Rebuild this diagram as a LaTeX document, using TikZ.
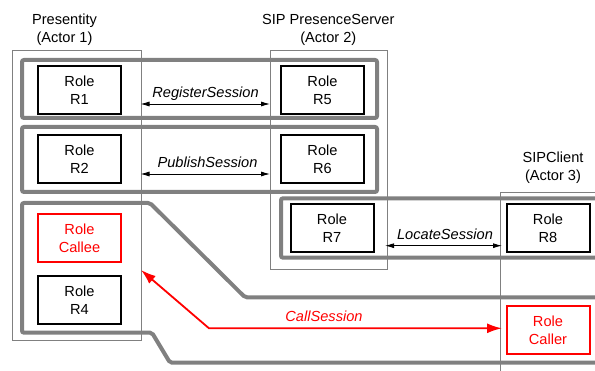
\documentclass[tikz,border=0pt]{standalone}
\usepackage{fontspec}
\setmainfont{Liberation Sans}
\usetikzlibrary{arrows.meta}
\begin{document}
\begin{tikzpicture}[x=1pt,y=-1pt,
  every node/.style={font=\fontsize{14.6}{18}\selectfont},
  rolebox/.style={draw=black, line width=2pt, minimum width=83pt, minimum height=48pt, align=center, inner sep=0pt, fill=white},
  redbox/.style={rolebox, draw=red, text=red},
  band/.style={draw=black!50, line width=4pt, rounded corners=2pt},
  actorbox/.style={draw=black!50, line width=0.8pt, inner sep=0pt},
  title/.style={align=center, inner sep=0pt},
  msg/.style={{Latex[length=9pt,width=5pt]}-{Latex[length=9pt,width=5pt]}, line width=0.8pt},
  lbl/.style={font=\fontsize{14.6}{18}\selectfont\itshape, anchor=base, inner sep=0pt}
]
\useasboundingbox (0,0) rectangle (595,371);
\clip (0,0) rectangle (595,371);

% actor boxes
\node[actorbox, minimum width=129pt, minimum height=290pt] (a1) at (76.5,195) {};
\node[actorbox, minimum width=116.6pt, minimum height=219.3pt] (a2) at (329,159.7) {};
\draw[draw=black!50, line width=0.8pt] (600,192.3) -- (500.7,192.3) -- (500.7,380);

% titles
\node[title] (t1) at (64.5,30) {Presentity\\(Actor 1)};
\node[title] (t2) at (328.3,30) {SIP PresenceServer\\(Actor 2)};
\node[title] (t3) at (553,168) {SIPClient\\(Actor 3)};

% session bands
\draw[band] (22,60) rectangle (377,118);
\draw[band] (22,127) rectangle (377,192);
\draw[band] (600,198.3) -- (281,198.3) -- (281,257.7) -- (600,257.7);
\draw[band] (600,297.3) -- (245,297.3) -- (150,203) -- (22,203) -- (22,332.7) -- (152,332.7) -- (170,362.7) -- (600,362.7);

% roles
\node[rolebox] (r1) at (79.5,90) {Role\\R1};
\node[rolebox] (r2) at (79.5,159) {Role\\R2};
\node[redbox] (callee) at (79.5,238.3) {Role\\Callee};
\node[rolebox] (r4) at (79.5,300) {Role\\R4};
\node[rolebox] (r5) at (322.5,90) {Role\\R5};
\node[rolebox] (r6) at (322.5,159) {Role\\R6};
\node[rolebox] (r7) at (332,228.5) {Role\\R7};
\node[rolebox] (r8) at (548,228.5) {Role\\R8};
\node[redbox] (caller) at (548,330) {Role\\Caller};

% connectors
\coordinate (rsA) at (140.5,104);
\coordinate (rsB) at (270,104);
\draw[msg] (rsA) -- (rsB);
\node[lbl] (lrs) at (205.5,98) {RegisterSession};

\coordinate (psA) at (140.5,174);
\coordinate (psB) at (270,174);
\draw[msg] (psA) -- (psB);
\node[lbl] (lps) at (207.5,168) {PublishSession};

\coordinate (lsA) at (385,245.7);
\coordinate (lsB) at (502,245.7);
\draw[msg] (lsA) -- (lsB);
\node[lbl] (lls) at (445,240) {LocateSession};

\coordinate (csA) at (141,270);
\coordinate (csM) at (209,328.3);
\coordinate (csB) at (502,328.3);
\draw[red, line width=1.8pt, {Latex[length=15pt,width=10pt]}-{Latex[length=15pt,width=10pt]}] (csA) -- (csM) -- (csB);
\node[lbl, text=red] (lcs) at (324,321.7) {CallSession};
\end{tikzpicture}
\end{document}
